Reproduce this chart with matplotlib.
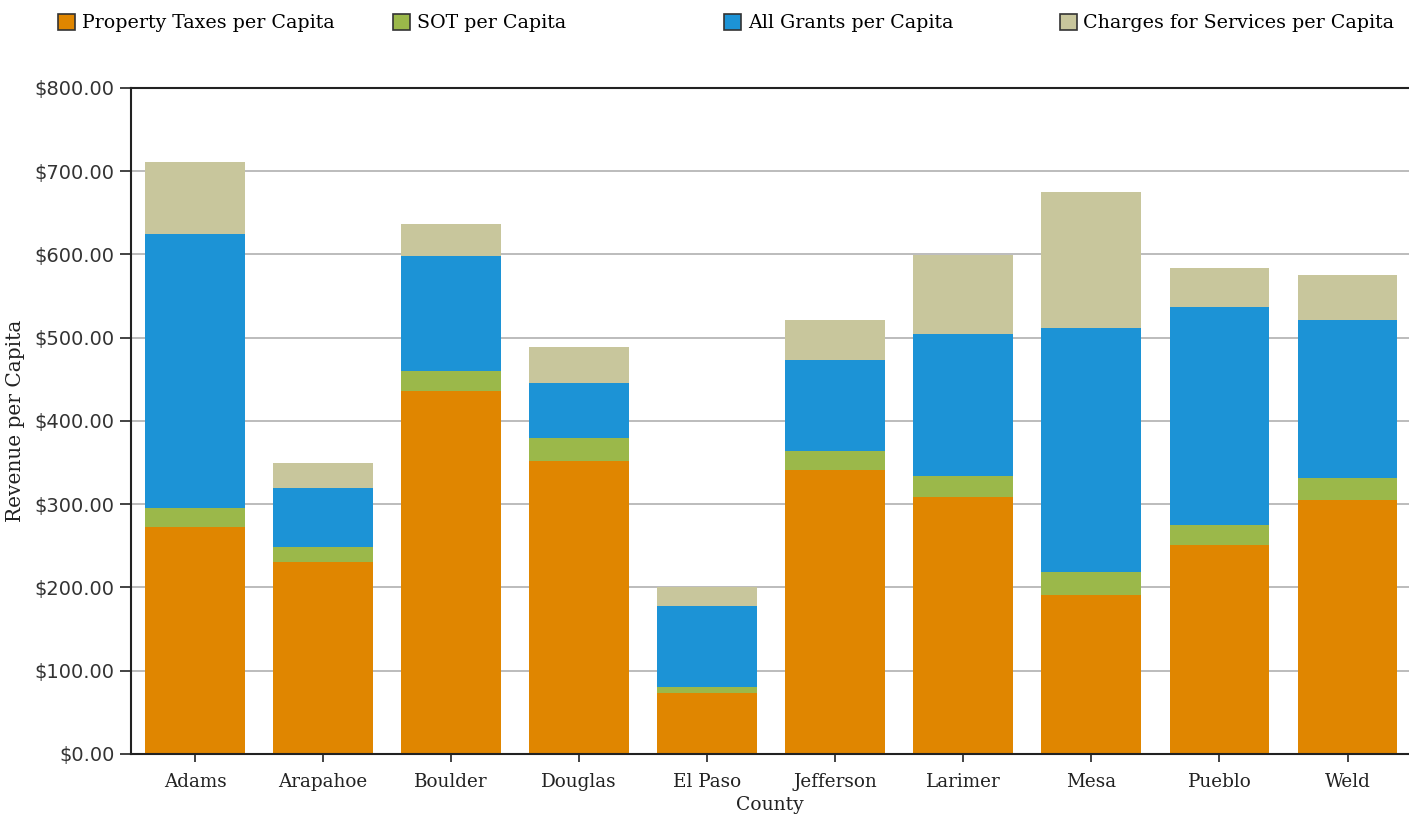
import matplotlib.pyplot as plt
from matplotlib.patches import Patch
from matplotlib.ticker import FuncFormatter

counties = ["Adams", "Arapahoe", "Boulder", "Douglas", "El Paso",
            "Jefferson", "Larimer", "Mesa", "Pueblo", "Weld"]
property_taxes = [273, 231, 436, 352, 73, 341, 309, 191, 251, 305]
sot = [22, 18, 24, 28, 7, 23, 25, 28, 24, 27]
grants = [330, 71, 138, 66, 98, 109, 171, 293, 262, 189]
charges = [86, 29, 39, 43, 23, 48, 94, 163, 47, 54]

series_names = ["Property Taxes per Capita", "SOT per Capita",
                "All Grants per Capita", "Charges for Services per Capita"]
colors = ["#E08600", "#9BB84A", "#1C93D6", "#C8C69C"]

serif = "DejaVu Serif"

fig = plt.figure(figsize=(14.09, 8.3), dpi=100)
ax = fig.add_axes([0.093, 0.0916, 0.907, 0.8024])

x = list(range(len(counties)))
bottom = [0] * len(counties)
for vals, col in zip([property_taxes, sot, grants, charges], colors):
    ax.bar(x, vals, bottom=bottom, width=0.78, color=col, zorder=2)
    bottom = [b + v for b, v in zip(bottom, vals)]

ax.set_ylim(0, 800)
ax.set_xlim(-0.5, 9.48)
ax.set_yticks(range(0, 801, 100))
ax.yaxis.set_major_formatter(FuncFormatter(lambda v, p: "${:,.2f}".format(v)))
ax.set_xticks(x)
ax.set_xticklabels(counties, fontfamily=serif, fontsize=13.2, color="#222222")
for lab in ax.get_yticklabels():
    lab.set_fontfamily("DejaVu Sans")
    lab.set_fontsize(14)
    lab.set_color("#333333")
ax.tick_params(axis="y", length=8, width=1.2, color="#222222", pad=4)
ax.tick_params(axis="x", length=6, width=1.2, color="#222222", pad=8)

ax.grid(axis="y", color="#b0b0b0", linewidth=1.2, zorder=0)
ax.set_axisbelow(True)
for side in ["left", "bottom", "top"]:
    ax.spines[side].set_color("#222222")
    ax.spines[side].set_linewidth(1.5)
ax.spines["right"].set_visible(False)

ax.set_xlabel("County", fontfamily=serif, fontsize=13.5, color="#222222", labelpad=3)
ax.set_ylabel("Revenue per Capita", fontfamily=serif, fontsize=14.5, color="#222222")
ax.yaxis.set_label_coords(-0.083, 0.5)

# legend entries sit in fixed-width slots across the top
slots = [0.041, 0.279, 0.514, 0.752]
for name, col, xs in zip(series_names, colors, slots):
    h = Patch(facecolor=col, edgecolor="#333333", linewidth=1.2)
    fig.legend([h], [name], loc="center left", bbox_to_anchor=(xs, 0.972),
               frameon=False, prop={"family": serif, "size": 13.7},
               handlelength=0.9, handleheight=0.9, handletextpad=0.35,
               borderaxespad=0, borderpad=0)

fig.savefig("out.png", dpi=100)
